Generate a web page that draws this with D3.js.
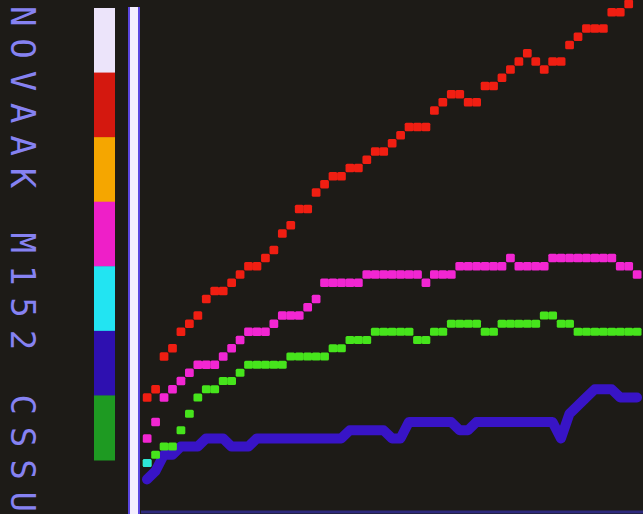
<!DOCTYPE html>
<html>
<head>
<meta charset="utf-8">
<script src="https://cdn.jsdelivr.net/npm/d3@7"></script>
<style>
  html, body { margin: 0; padding: 0; background: #1d1b17; }
  svg { display: block; }
</style>
</head>
<body>
<svg id="chart" width="643" height="514"></svg>
<script>
// ---- data (grid units) ----
const title = "NOVAAK M152 CSSU";
const legendColors = ["#ece4fa", "#d4180f", "#f5a600", "#ee1fc8", "#22e4f2", "#2e10b0", "#1e9a22"];
const red = [13,14,18,19,21,22,23,25,26,26,27,28,29,29,30,31,33,34,36,36,38,39,40,40,41,41,42,43,43,44,45,46,46,46,48,49,50,50,49,49,51,51,52,53,54,55,54,53,54,54,56,57,58,58,58,60,60,61];
const magenta = [8,10,13,14,15,16,17,17,17,18,19,20,21,21,21,22,23,23,23,24,25,27,27,27,27,27,28,28,28,28,28,28,28,27,28,28,28,29,29,29,29,29,29,30,29,29,29,29,30,30,30,30,30,30,30,30,29,29,28];
const green = [5,6,7,7,9,11,13,14,14,15,15,16,17,17,17,17,17,18,18,18,18,18,19,19,20,20,20,21,21,21,21,21,20,20,21,21,22,22,22,22,21,21,22,22,22,22,22,23,23,22,22,21,21,21,21,21,21,21,21];
const blue = [3,4,6,6,7,7,7,8,8,8,7,7,7,8,8,8,8,8,8,8,8,8,8,8,9,9,9,9,9,8,8,10,10,10,10,10,10,9,9,10,10,10,10,10,10,10,10,10,10,8,11,12,13,14,14,14,13,13,13];
const cyan = [5];

// ---- scales ----
const svg = d3.select("#chart");
const x = d3.scaleLinear().domain([0, 58]).range([147, 637]);
const y = d3.scaleLinear().domain([0, 61]).range([504, 4]);
const step = x(1) - x(0);

// ---- legend bar ----
const lg = d3.scaleBand().domain(d3.range(legendColors.length)).range([8, 460]);
svg.append("g").selectAll("rect").data(legendColors).join("rect")
  .attr("x", 94).attr("width", 21)
  .attr("y", (d, i) => lg(i)).attr("height", lg.bandwidth() + 0.5)
  .attr("fill", d => d);

// ---- title text (vertical) ----
svg.append("text")
  .attr("transform", "translate(11,6) rotate(90)")
  .attr("font-family", "DejaVu Sans Mono, monospace")
  .attr("font-size", 34)
  .attr("fill", "#8682f2")
  .attr("textLength", 506)
  .attr("lengthAdjust", "spacing")
  .attr("dominant-baseline", "alphabetic")
  .text(title);

// ---- axis lines ----
svg.append("line").attr("x1", 134).attr("x2", 134).attr("y1", 7).attr("y2", 514)
  .attr("stroke", "#5a46e0").attr("stroke-width", 12);
svg.append("line").attr("x1", 134).attr("x2", 134).attr("y1", 7).attr("y2", 514)
  .attr("stroke", "#f4eeff").attr("stroke-width", 8);
svg.append("line").attr("x1", 141).attr("x2", 643).attr("y1", 512).attr("y2", 512)
  .attr("stroke", "#3a34c0").attr("stroke-width", 3).attr("opacity", 0.6);

// ---- blue series (thick line) ----
svg.append("path")
  .datum(blue)
  .attr("d", d3.line().x((d, i) => x(i)).y(d => y(d)))
  .attr("fill", "none").attr("stroke", "#3814c6")
  .attr("stroke-width", 10).attr("stroke-linejoin", "round").attr("stroke-linecap", "round");

// ---- block series ----
function blocks(data, color, h, cls) {
  svg.append("g").attr("class", cls).selectAll("rect").data(data).join("rect")
    .attr("x", (d, i) => x(i) - step / 2)
    .attr("width", step + 0.3)
    .attr("y", d => y(d) - h / 2)
    .attr("height", h)
    .attr("rx", 1.5)
    .attr("fill", color);
}
blocks(green, "#46e41c", 8, "green");
blocks(magenta, "#f226d2", 8.5, "magenta");
blocks(red, "#f01e12", 8.5, "red");
blocks(cyan, "#2ee8d8", 8, "cyan");
</script>
</body>
</html>
